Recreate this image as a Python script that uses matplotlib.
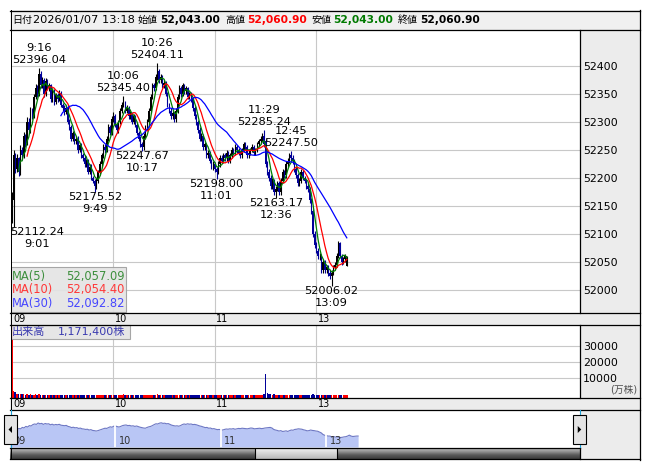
import matplotlib
matplotlib.use('Agg')
import matplotlib.pyplot as plt
import numpy as np
import pandas as pd
from matplotlib.patches import Rectangle, Polygon
from matplotlib.lines import Line2D
from matplotlib.transforms import ScaledTranslation

plt.rcParams['font.family'] = ['DejaVu Sans', 'Noto Sans CJK JP']

# ---------------- data ----------------
opens = [
    52130, 52160, 52240, 52215, 52235, 52210, 52250, 52240, 52275, 52262,
    52300, 52285, 52320, 52310, 52345, 52360, 52350, 52385, 52365, 52375,
    52350, 52372, 52360, 52365, 52340, 52355, 52335, 52348, 52340, 52352,
    52330, 52325, 52318, 52325, 52300, 52290, 52270, 52280, 52265, 52270,
    52250, 52258, 52240, 52235, 52225, 52230, 52210, 52220, 52200, 52195,
    52185, 52195, 52210, 52225, 52240, 52255, 52250, 52270, 52290, 52280,
    52305, 52310, 52295, 52285, 52300, 52320, 52330, 52335, 52320, 52325,
    52310, 52315, 52300, 52310, 52295, 52280, 52270, 52260, 52255, 52275,
    52290, 52300, 52320, 52345, 52365, 52360, 52380, 52390, 52375, 52380,
    52365, 52370, 52350, 52330, 52320, 52310, 52315, 52305, 52320, 52345,
    52360, 52350, 52365, 52355, 52360, 52345, 52350, 52340, 52325, 52310,
    52300, 52285, 52270, 52275, 52255, 52260, 52240, 52245, 52230, 52220,
    52225, 52215, 52210, 52225, 52235, 52230, 52240, 52235, 52245, 52230,
    52240, 52250, 52245, 52255, 52250, 52245, 52240, 52250, 52260, 52255,
    52240, 52245, 52250, 52255, 52245, 52250, 52260, 52265, 52270, 52275,
    52265, 52225, 52210, 52200, 52185, 52195, 52175, 52180, 52190, 52175,
    52195, 52210, 52205, 52225, 52230, 52240, 52235, 52230, 52215, 52205,
    52190, 52195, 52210, 52200, 52195, 52185, 52180, 52160, 52140, 52100,
    52080, 52070, 52060, 52060, 52035.6, 52050, 52035, 52040, 52030, 52025,
    52030, 52040, 52045, 52060.55, 52083, 52060, 52049.55, 52055, 52043,
]
highs = [
    52175, 52250, 52245, 52242, 52238, 52258, 52255, 52282, 52278, 52308,
    52306, 52326, 52325, 52350, 52368, 52365, 52396.04, 52390, 52380, 52378,
    52378, 52376, 52370, 52368, 52360, 52358, 52352, 52352, 52356, 52355,
    52334, 52330, 52330, 52328, 52305, 52294, 52284, 52284, 52275, 52274,
    52263, 52262, 52245, 52240, 52234, 52233, 52225, 52224, 52204, 52198,
    52200, 52214, 52230, 52245, 52260, 52260, 52274, 52296, 52294, 52310,
    52318, 52314, 52298, 52304, 52325, 52336, 52345.40, 52338, 52330, 52328,
    52320, 52318, 52314, 52313, 52298, 52284, 52274, 52264, 52280, 52295,
    52305, 52325, 52350, 52370, 52370, 52385, 52404.11, 52394, 52386, 52384,
    52375, 52373, 52354, 52334, 52324, 52320, 52318, 52324, 52350, 52366,
    52364, 52370, 52368, 52364, 52363, 52354, 52354, 52344, 52328, 52314,
    52304, 52290, 52280, 52278, 52264, 52263, 52250, 52248, 52234, 52230,
    52228, 52220, 52230, 52240, 52240, 52245, 52244, 52250, 52248, 52244,
    52255, 52254, 52260, 52258, 52254, 52248, 52254, 52264, 52264, 52258,
    52250, 52254, 52260, 52258, 52254, 52264, 52270, 52274, 52280, 52285.24,
    52270, 52230, 52215, 52205, 52200, 52198, 52186, 52195, 52194, 52200,
    52215, 52214, 52230, 52236, 52244, 52247.50, 52240, 52234, 52220, 52208,
    52200, 52215, 52214, 52204, 52198, 52190, 52184, 52164, 52145, 52105,
    52085, 52075, 52066, 52064, 52055, 52054, 52045, 52045, 52035, 52036,
    52045, 52050, 52065, 52088, 52086, 52064, 52058, 52064, 52060.90,
]
lows = [
    52120, 52112.24, 52208, 52210, 52203, 52205, 52232, 52236, 52255, 52258,
    52280, 52280, 52305, 52306, 52340, 52345, 52346, 52360, 52360, 52345,
    52346, 52356, 52355, 52336, 52335, 52330, 52332, 52336, 52337, 52326,
    52320, 52312, 52314, 52296, 52285, 52266, 52266, 52260, 52260, 52245,
    52246, 52236, 52230, 52220, 52220, 52206, 52206, 52196, 52190, 52175.52,
    52180, 52190, 52205, 52220, 52236, 52245, 52246, 52265, 52276, 52276,
    52300, 52290, 52280, 52280, 52296, 52316, 52326, 52316, 52316, 52305,
    52305, 52296, 52296, 52290, 52276, 52265, 52255, 52247.67, 52250, 52270,
    52285, 52296, 52316, 52340, 52355, 52356, 52375, 52370, 52370, 52360,
    52360, 52346, 52326, 52315, 52305, 52305, 52300, 52300, 52316, 52340,
    52345, 52346, 52350, 52350, 52340, 52340, 52336, 52320, 52305, 52295,
    52280, 52265, 52265, 52250, 52250, 52236, 52236, 52226, 52215, 52214,
    52210, 52198.00, 52206, 52220, 52226, 52226, 52230, 52230, 52226, 52226,
    52236, 52240, 52240, 52245, 52240, 52235, 52236, 52246, 52250, 52235,
    52235, 52240, 52246, 52240, 52240, 52246, 52255, 52260, 52265, 52255,
    52220, 52205, 52195, 52180, 52180, 52170, 52163.17, 52176, 52170, 52170,
    52190, 52200, 52200, 52220, 52226, 52230, 52225, 52210, 52200, 52185,
    52186, 52190, 52196, 52190, 52180, 52175, 52155, 52135, 52095, 52075,
    52065, 52055, 52054, 52030, 52030, 52030, 52030, 52025, 52020, 52006.02,
    52026, 52036, 52040, 52056, 52056, 52045, 52046, 52050, 52043,
]
closes = [
    52160, 52240, 52215, 52235, 52210, 52250, 52240, 52275, 52262, 52300,
    52285, 52320, 52310, 52345, 52360, 52350, 52385, 52365, 52375, 52350,
    52372, 52360, 52365, 52340, 52355, 52335, 52348, 52340, 52352, 52330,
    52325, 52318, 52325, 52300, 52290, 52270, 52280, 52265, 52270, 52250,
    52258, 52240, 52235, 52225, 52230, 52210, 52220, 52200, 52195, 52185,
    52195, 52210, 52225, 52240, 52255, 52250, 52270, 52290, 52280, 52305,
    52310, 52295, 52285, 52300, 52320, 52330, 52335, 52320, 52325, 52310,
    52315, 52300, 52310, 52295, 52280, 52270, 52260, 52255, 52275, 52290,
    52300, 52320, 52345, 52365, 52360, 52380, 52390, 52375, 52380, 52365,
    52370, 52350, 52330, 52320, 52310, 52315, 52305, 52320, 52345, 52360,
    52350, 52365, 52355, 52360, 52345, 52350, 52340, 52325, 52310, 52300,
    52285, 52270, 52275, 52255, 52260, 52240, 52245, 52230, 52220, 52225,
    52215, 52210, 52225, 52235, 52230, 52240, 52235, 52245, 52230, 52240,
    52250, 52245, 52255, 52250, 52245, 52240, 52250, 52260, 52255, 52240,
    52245, 52250, 52255, 52245, 52250, 52260, 52265, 52270, 52275, 52260,
    52225, 52210, 52200, 52185, 52195, 52175, 52180, 52190, 52175, 52195,
    52210, 52205, 52225, 52230, 52240, 52235, 52230, 52215, 52205, 52190,
    52195, 52210, 52200, 52195, 52185, 52180, 52160, 52140, 52100, 52080,
    52070, 52060, 52060, 52035.6, 52050, 52035, 52040, 52030, 52025, 52030,
    52040, 52045, 52060.55, 52083, 52060, 52049.55, 52055, 52060, 52060.90,
]
volumes = [
    80000, 4200, 3200, 2500, 2200, 2000, 2100, 1900, 1800, 2000,
    1700, 1900, 1600, 1800, 2000, 1500, 1900, 1700, 1600, 1800,
    1500, 1700, 1600, 1800, 1400, 1600, 1700, 1500, 1600, 1800,
    1600, 1500, 1700, 1400, 1600, 1500, 1800, 1600, 1400, 1700,
    1500, 1600, 1700, 1500, 1400, 1600, 1800, 1500, 1600, 1700,
    1600, 1500, 1700, 1600, 1400, 1500, 1600, 1700, 1500, 1600,
    1800, 1600, 1500, 1700, 1600, 1500, 1900, 1600, 1500, 1600,
    1400, 1600, 1500, 1600, 1700, 1500, 1600, 1700, 1500, 1600,
    1600, 1700, 1800, 1600, 1500, 1700, 1900, 1600, 1500, 1600,
    1700, 1500, 1600, 1400, 1600, 1500, 1700, 1600, 1500, 1600,
    1500, 1600, 1400, 1600, 1700, 1500, 1600, 1400, 1500, 1600,
    1600, 1500, 1700, 1400, 1600, 1500, 1600, 1700, 1500, 1400,
    1800, 1600, 1500, 1600, 1400, 1500, 1600, 1400, 1500, 1600,
    1400, 1500, 1600, 1400, 1500, 1600, 1400, 1500, 1600, 1500,
    1500, 1600, 1400, 1500, 1600, 1500, 1400, 1600, 1700, 1900,
    14500, 2800, 2200, 2000, 1800, 1900, 1700, 1600, 1800, 1700,
    1600, 1700, 1500, 1600, 1800, 1600, 1500, 1700, 1600, 1500,
    1600, 1500, 1700, 1600, 1500, 1600, 1700, 1800, 1900, 1700,
    1800, 1600, 1700, 1500, 1600, 1700, 1600, 1500, 1600, 1700,
    1600, 1500, 1600, 1700, 1500, 1600, 1500, 1600, 1700,
]
# session minutes: morning 9:00-11:29, afternoon 12:30-13:18
times = ([f"{9 + m // 60}:{m % 60:02d}" for m in range(150)] +
         [f"{12 + (30 + m) // 60}:{(30 + m) % 60:02d}" for m in range(49)])

# swing annotations (time, price, kind)
ann_times = ["9:01", "9:16", "9:49", "10:06", "10:17", "10:26", "11:01", "11:29", "12:36", "12:45", "13:09"]
ann_prices = [52112.24, 52396.04, 52175.52, 52345.40, 52247.67, 52404.11, 52198.00, 52285.24, 52163.17, 52247.50, 52006.02]
ann_kinds = ["low", "high", "low", "high", "low", "high", "low", "high", "low", "high", "low"]

price_ticks = [52000, 52050, 52100, 52150, 52200, 52250, 52300, 52350, 52400]
vol_ticks = [10000, 20000, 30000]

hdr_date = "2026/01/07 13:18"
hdr_open, hdr_high, hdr_low, hdr_close = "52,043.00", "52,060.90", "52,043.00", "52,060.90"
total_volume = "1,171,400株"
ma_periods = [5, 10, 30]

# ---------------- figure ----------------
W, H = 653, 470
fig = plt.figure(figsize=(W / 100, H / 100), dpi=100)
fig.patch.set_facecolor('white')
GRAY = '#ececec'


def fx(x):
    return x / W


def fy(y):
    return 1 - y / H


def rect_px(x0, y0, x1, y1):
    return [fx(x0), fy(y1), (x1 - x0) / W, (y1 - y0) / H]


def add_rect(x0, y0, x1, y1, fc='none', ec='none', lw=0.72, z=-5, alpha=None):
    r = Rectangle((fx(x0), fy(y1)), (x1 - x0) / W, (y1 - y0) / H, transform=fig.transFigure,
                  facecolor=fc, edgecolor=ec, linewidth=lw, zorder=z, alpha=alpha)
    fig.add_artist(r)
    return r


def add_line(xs, ys, color='black', lw=0.9, z=10):
    fig.add_artist(Line2D([fx(x) for x in xs], [fy(y) for y in ys], transform=fig.transFigure,
                          color=color, linewidth=lw, zorder=z))


# backgrounds
add_rect(10, 10, 640, 29.5, fc='#f0f0f0')
add_rect(580, 29, 640, 459, fc=GRAY)
add_rect(10, 312, 640, 324.5, fc=GRAY)
add_rect(10, 397, 640, 410, fc=GRAY)

n = len(closes)
idx = np.arange(n)
O = np.array(opens, float); Hh = np.array(highs, float); L = np.array(lows, float); C = np.array(closes, float)
up = C >= O
hour_idx = [i for i, t in enumerate(times) if t.endswith(':00')]
hour_lbl = [f"{int(times[i].split(':')[0]):02d}" for i in hour_idx]

XLIM = (-0.5, 335.85)
GRID = '#c8c8c8'

# ---------------- main price axes ----------------
axm = fig.add_axes(rect_px(11, 29.5, 580, 312.5))
axm.set_xlim(*XLIM)
axm.set_ylim(51959.5, 52464.8)
for s in axm.spines.values():
    s.set_visible(False)
for v in price_ticks:
    axm.axhline(v, color=GRID, lw=0.8, zorder=0)
for i in hour_idx[1:]:
    axm.axvline(i, color=GRID, lw=0.8, zorder=0)

dn_col = '#000099'
colors = np.where(up, 'black', dn_col)
axm.vlines(idx, L, Hh, colors=colors, lw=0.8, zorder=2)
body_h = np.maximum(np.abs(C - O), 0.8)
axm.bar(idx, body_h, bottom=np.minimum(O, C), width=0.75, color=colors, zorder=2, linewidth=0)

sC = pd.Series(C)
ma_cols = ['#008000', '#ff0000', '#0000ff']
mas = []
for p, col in zip(ma_periods, ma_cols):
    m = sC.rolling(p).mean()
    mas.append(m)
    axm.plot(idx, m, color=col, lw=0.9, zorder=3)

axm.yaxis.tick_right()
axm.set_yticks(price_ticks)
axm.set_yticklabels([str(v) for v in price_ticks], fontsize=7.9)
axm.tick_params(axis='y', length=0, pad=2)
axm.set_xticks(hour_idx)
axm.set_xticklabels(hour_lbl, fontsize=7, ha='left')
axm.tick_params(axis='x', length=0, pad=1.2)
for lab in axm.get_xticklabels():
    lab.set_transform(lab.get_transform() + ScaledTranslation(1.5 / 100, 0, fig.dpi_scale_trans))

# annotations
ann_objs = []
for t, p, k in zip(ann_times, ann_prices, ann_kinds):
    i = times.index(t)
    if k == 'high':
        d1, d2 = 8.5, 20.5
    else:
        d1, d2 = -5, -17
    a1 = axm.annotate(f"{p:.2f}", xy=(i, p), xytext=(0, d1), textcoords='offset pixels',
                      ha='center', va='center', fontsize=8.2, color='black', zorder=6)
    a2 = axm.annotate(t, xy=(i, p), xytext=(0, d2), textcoords='offset pixels',
                      ha='center', va='center', fontsize=8.2, color='black', zorder=6)
    ann_objs.append((a1, a2, i, p, d1, d2))

# MA legend box
add_rect(10.5, 267, 126, 312, fc='#e4e4e4', ec='#a0a0a0', lw=0.8, z=8, alpha=0.92)
ma_txt_cols = ['#3d8f3d', '#ff3838', '#4646ff']
for row, (p, m, col) in enumerate(zip(ma_periods, mas, ma_txt_cols)):
    yy = 276.5 + row * 13.5
    fig.text(fx(12), fy(yy), f"MA({p})", color=col, fontsize=8.3, va='center', ha='left', zorder=9)
    fig.text(fx(124.5), fy(yy), f"{m.iloc[-1]:,.2f}", color=col, fontsize=8.3, va='center', ha='right', zorder=9)

# ---------------- volume axes ----------------
VYL = (-2312, 43313)
axv = fig.add_axes(rect_px(11, 324.5, 580, 397.5))
axv.set_xlim(*XLIM)
axv.set_ylim(*VYL)
for s in axv.spines.values():
    s.set_visible(False)
for v in vol_ticks:
    axv.axhline(v, color=GRID, lw=0.8, zorder=0)
for i in hour_idx[1:]:
    axv.axvline(i, color=GRID, lw=0.8, zorder=0)
vcols = np.where(up, '#ff0000', '#000099')
axv.bar(idx, np.array(volumes, float), bottom=VYL[0], width=0.9, color=vcols, linewidth=0, zorder=2)
axv.yaxis.tick_right()
axv.set_yticks(vol_ticks)
axv.set_yticklabels([str(v) for v in vol_ticks], fontsize=7.9)
axv.tick_params(axis='y', length=0, pad=2)
axv.set_xticks(hour_idx)
axv.set_xticklabels(hour_lbl, fontsize=7, ha='left')
axv.tick_params(axis='x', length=0, pad=1.2)
for lab in axv.get_xticklabels():
    lab.set_transform(lab.get_transform() + ScaledTranslation(1.5 / 100, 0, fig.dpi_scale_trans))
fig.text(fx(637), fy(390), "(万株)", color='#505050', fontsize=7, ha='right', va='center')

# volume legend box
add_rect(10.5, 325, 130, 339, fc='#e4e4e4', ec='#a0a0a0', lw=0.8, z=8, alpha=0.92)
fig.text(fx(12), fy(332), "出来高", color='#3a3ab0', fontsize=8, va='center', ha='left', zorder=9)
fig.text(fx(58), fy(332), total_volume, color='#3a3ab0', fontsize=8, va='center', ha='left', zorder=9)

# ---------------- navigator ----------------
axn = fig.add_axes(rect_px(10, 410, 580, 447))
axn.set_xlim(0, 324.2)
axn.set_ylim(51789, 52707)
for s in axn.spines.values():
    s.set_visible(False)
axn.set_xticks([]); axn.set_yticks([])
axn.fill_between(idx, C, 51789, color='#b9c6f5', lw=0, zorder=1)
axn.plot(idx, C, color='#6e78c4', lw=0.8, zorder=2)
for i, lbl in zip(hour_idx, hour_lbl):
    if i > 0:
        axn.axvline(i, color='white', lw=1.3, zorder=3)
    axn.annotate(lbl, xy=(i, 0), xycoords=('data', 'axes fraction'), xytext=(3, 6), textcoords='offset pixels',
                 fontsize=7, ha='left', va='center', color='#303030', zorder=4)

# ---------------- scrollbar ----------------
axs = fig.add_axes(rect_px(10, 447.5, 580, 459))
axs.set_xlim(10, 580); axs.set_ylim(0, 1)
axs.set_axis_off()
grad = np.linspace(0, 1, 64).reshape(-1, 1)
axs.imshow(grad, extent=(10, 580, 0, 1), aspect='auto', cmap=matplotlib.colors.LinearSegmentedColormap.from_list(
    'sb', ['#3a3a3a', '#5a5a5a', '#9a9a9a', '#c8c8c8']), origin='lower', zorder=1)
axs.imshow(grad, extent=(255, 337, 0, 1), aspect='auto', cmap=matplotlib.colors.LinearSegmentedColormap.from_list(
    'th', ['#b8b8b8', '#d8d8d8', '#f8f8f8']), origin='lower', zorder=2)
axs.plot([255, 255], [0, 1], color='black', lw=0.8, zorder=3)
axs.plot([337, 337], [0, 1], color='black', lw=0.8, zorder=3)

# navigator buttons
for (x0, x1, left) in [(4, 17, True), (572.5, 586, False)]:
    add_rect(x0, 415, x1, 444, fc='#e4e4e4', ec='black', lw=0.8, z=12)
    cx, cy = (x0 + x1) / 2, 429.5
    if left:
        pts = [(cx - 2, cy), (cx + 1.5, cy - 3.5), (cx + 1.5, cy + 3.5)]
    else:
        pts = [(cx + 2, cy), (cx - 1.5, cy - 3.5), (cx - 1.5, cy + 3.5)]
    fig.add_artist(Polygon([(fx(a), fy(b)) for a, b in pts], closed=True, transform=fig.transFigure,
                           facecolor='black', edgecolor='none', zorder=13))
add_line([10.5, 10.5], [410, 447], color='#1ea0d8', lw=0.8, z=11)
add_line([579.5, 579.5], [410, 447], color='#1ea0d8', lw=0.8, z=11)

# ---------------- frame lines ----------------
add_line([10, 640], [10.5, 10.5])
add_line([10, 640], [29.5, 29.5])
add_line([10.5, 10.5], [10, 410], lw=0.72)
add_line([10.5, 10.5], [447, 459], lw=0.72)
add_line([640, 640], [10, 459.5])
add_line([10, 640], [459, 459])
add_line([10, 640], [312.5, 312.5])
add_line([10, 640], [324.5, 324.5])
add_line([10, 640], [397.5, 397.5])
add_line([10, 640], [410, 410])
add_line([10, 580], [447.5, 447.5])
add_line([580, 580], [29.5, 312.5])
add_line([580, 580], [324.5, 397.5])
add_line([580, 580], [447.5, 459])

# ---------------- header ----------------
hy = fy(20)
fig.text(fx(12), hy, "日付", fontsize=7.2, va='center', ha='left')
fig.text(fx(33), hy, hdr_date, fontsize=8.2, va='center', ha='left')
items = [("始値", 138, hdr_open, 160, 'black'), ("高値", 225, hdr_high, 247, '#ff0000'),
         ("安値", 311, hdr_low, 333, '#007a00'), ("終値", 398, hdr_close, 420, 'black')]
for lbl, lx, val, vx, col in items:
    fig.text(fx(lx), hy, lbl, fontsize=7.2, va='center', ha='left')
    fig.text(fx(vx), hy, val, fontsize=7.7, fontweight='bold', color=col, va='center', ha='left')

# clamp annotations inside the plot horizontally
fig.canvas.draw()
r = fig.canvas.get_renderer()
axbb = axm.get_window_extent(r)
for a1, a2, i, p, d1, d2 in ann_objs:
    e1 = a1.get_window_extent(r); e2 = a2.get_window_extent(r)
    left = min(e1.x0, e2.x0)
    right = max(e1.x1, e2.x1)
    shift = 0
    if left < axbb.x0 - 1:
        shift = axbb.x0 - 1 - left
    elif right > axbb.x1:
        shift = axbb.x1 - right
    if shift:
        a1.set_position((shift, d1)); a2.set_position((shift, d2))

fig.savefig('out.png', dpi=100)
